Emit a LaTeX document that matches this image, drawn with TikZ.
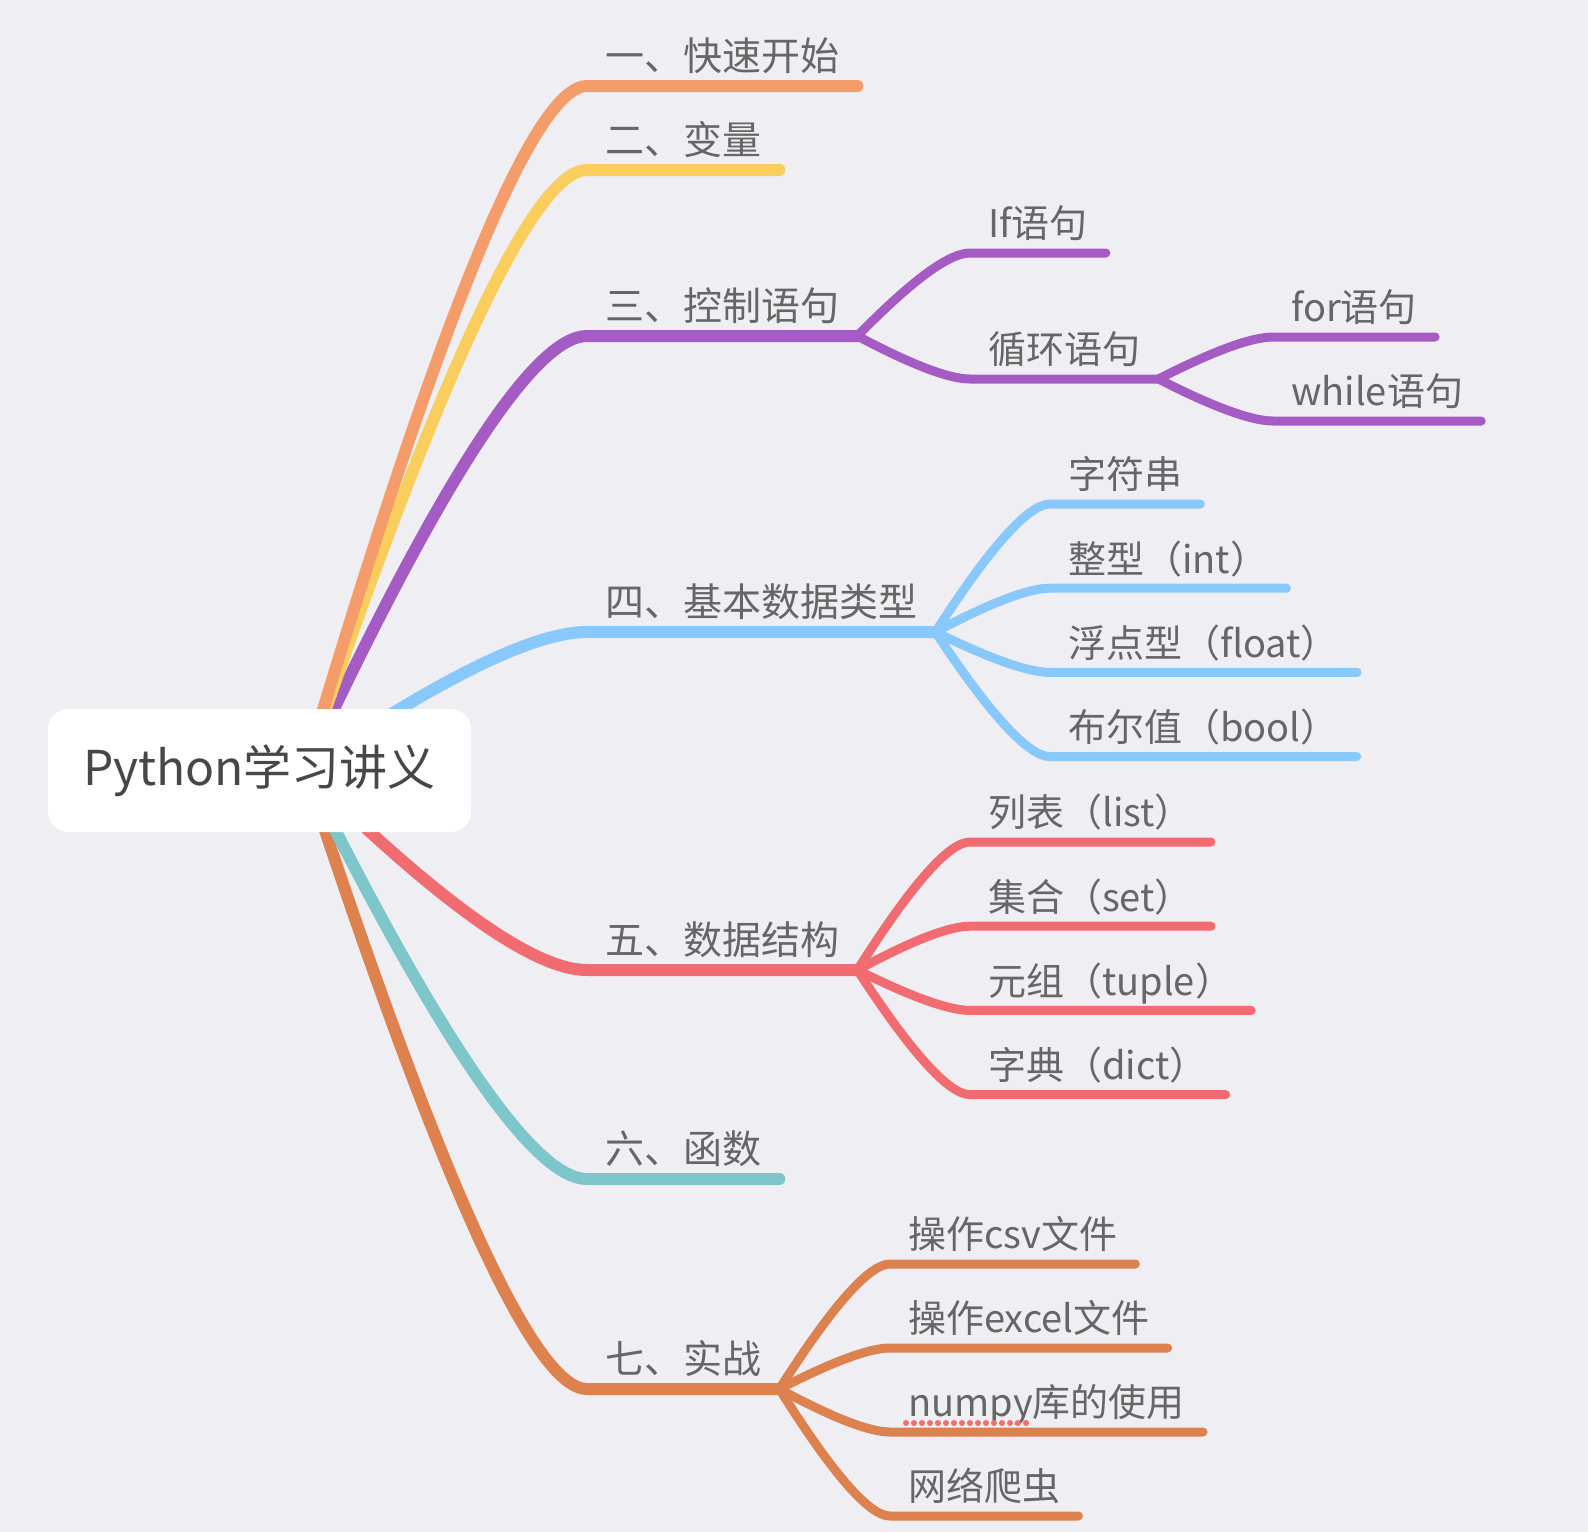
\documentclass[tikz,border=0pt]{standalone}
\usepackage{fontspec}
\setmainfont{Noto Sans CJK SC}
\usetikzlibrary{calc}

\definecolor{bgcol}{HTML}{EFEEF3}
\definecolor{textgray}{HTML}{666666}
\definecolor{rootgray}{HTML}{474747}
\definecolor{c1}{HTML}{F49C6A}
\definecolor{c2}{HTML}{F9CE5C}
\definecolor{c3}{HTML}{A45BC4}
\definecolor{c4}{HTML}{88C8FA}
\definecolor{c5}{HTML}{F06C70}
\definecolor{c6}{HTML}{7DC7CB}
\definecolor{c7}{HTML}{DD814F}
\definecolor{spellred}{HTML}{F07070}

\begin{document}
\begin{tikzpicture}[x=1pt,y=-1pt,
  topic/.style={anchor=south west,inner xsep=18pt,inner ysep=5pt,text depth=10pt,text=textgray,font=\fontsize{39}{40}\selectfont},
  sub/.style={topic,font=\fontsize{38}{40}\selectfont},
  rootbox/.style={fill=white,rounded corners=20pt,minimum width=423pt,minimum height=123pt,inner sep=0pt,text=rootgray,font=\fontsize{48}{50}\selectfont},
  branch/.style={line width=12pt,line cap=round,line join=round},
  twig/.style={line width=9pt,line cap=round,line join=round},
  spell/.style={draw=spellred,line width=6pt,line cap=round,dash pattern=on 0pt off 8pt},
  curvy/.style={to path={let \p1=(\tikztostart), \p2=(\tikztotarget) in
    .. controls ({\x1+0.48*(\x2-\x1)},{\y1+0.667*(\y2-\y1)}) and ({\x2-0.187*(\x2-\x1)},{\y2}) .. (\tikztotarget)}}]

\fill[bgcol] (0,0) rectangle (1588,1532);
\useasboundingbox (0,0) rectangle (1588,1532);

% main topics
\node[topic] (n1) at (587,86) {一、快速开始};
\node[topic] (n2) at (587,170) {二、变量};
\node[topic] (n3) at (587,336) {三、控制语句};
\node[topic] (n4) at (587,632) {四、基本数据类型};
\node[topic] (n5) at (587,970) {五、数据结构};
\node[topic] (n6) at (587,1179) {六、函数};
\node[topic] (n7) at (587,1389) {七、实战};

% subtopics
\node[sub] (n3a) at (970,253) {If语句};
\node[sub] (n3b) at (970,379) {循环语句};
\node[sub] (n3b1) at (1273,337) {for语句};
\node[sub] (n3b2) at (1273,421) {while语句};
\foreach \txt [count=\s] in {{字符串},{整型（int）},{浮点型（float）},{布尔值（bool）}}
  \node[sub] (n4\s) at (1050,{504+84.2*(\s-1)}) {\txt};
\foreach \txt [count=\s] in {{列表（list）},{集合（set）},{元组（tuple）},{字典（dict）}}
  \node[sub] (n5\s) at (970,{842+84.2*(\s-1)}) {\txt};
\foreach \txt [count=\s] in {{操作csv文件},{操作excel文件},{numpy库的使用},{网络爬虫}}
  \node[sub] (n7\s) at (890,{1264+84*(\s-1)}) {\txt};

\draw[spell] ([xshift=16pt,yshift=9pt]n73.south west) -- ++(126,0);

% branches
\coordinate (hub) at (305,770);
\foreach \id/\col in {n7/c7, n6/c6, n5/c5, n4/c4, n3/c3, n2/c2, n1/c1}
  \draw[branch,draw=\col] (hub) to[curvy] (\id.south west) -- (\id.south east);

\foreach \id in {n3a, n3b}
  \draw[twig,draw=c3] (n3.south east) to[curvy] (\id.south west) -- (\id.south east);
\foreach \id in {n3b1, n3b2}
  \draw[twig,draw=c3] (n3b.south east) to[curvy] (\id.south west) -- (\id.south east);
\foreach \s in {1,...,4}
{
  \draw[twig,draw=c4] (n4.south east) to[curvy] (n4\s.south west) -- (n4\s.south east);
  \draw[twig,draw=c5] (n5.south east) to[curvy] (n5\s.south west) -- (n5\s.south east);
  \draw[twig,draw=c7] (n7.south east) to[curvy] (n7\s.south west) -- (n7\s.south east);
}

\node[rootbox] (root) at (259.5,770.5) {Python学习讲义};

\end{tikzpicture}
\end{document}
